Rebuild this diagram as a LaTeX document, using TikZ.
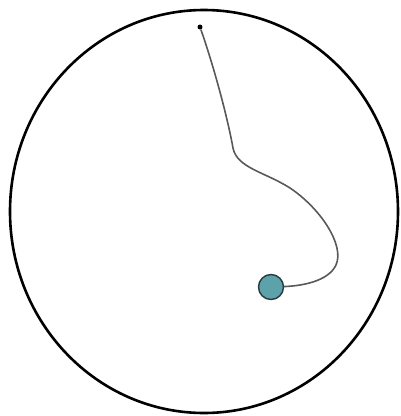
\documentclass[tikz,border=0pt]{standalone}
\usepackage{tikz}
\usetikzlibrary{positioning}

\definecolor{ballTeal}{RGB}{92,162,168}
\definecolor{ballEdge}{RGB}{40,58,66}

\begin{document}
\begin{tikzpicture}[
        x=1pt, y=-1pt,
        rim/.style={
            draw=black,
            line width=2.6pt
        },
        pinDot/.style={
            circle,
            fill=black,
            inner sep=0pt,
            minimum size=5pt
        },
        ballNode/.style={
            circle,
            draw=ballEdge,
            line width=1.4pt,
            fill=ballTeal,
            inner sep=0pt,
            minimum size=25pt
        },
        tether/.style={
            draw=black!65,
            line width=1.6pt
        }
    ]

        \useasboundingbox (0,0) rectangle (401,416);

        % Outer boundary
        \draw[rim] (204,211.5) ellipse [x radius=194, y radius=201.5];

        % Fixed point and ball
        \node[pinDot] (pin) at (200,27) {};
        \node[ballNode] (ball) at (271,287) {};

        % String between them
        \draw[tether]
            (pin)
            .. controls (215,70) and (228,120) .. (233,148)
            .. controls (237,168) and (265,172) .. (290,188)
            .. controls (320,208) and (345,245) .. (336,265)
            .. controls (328,282) and (300,286) .. (ball);

    \end{tikzpicture}
\end{document}
